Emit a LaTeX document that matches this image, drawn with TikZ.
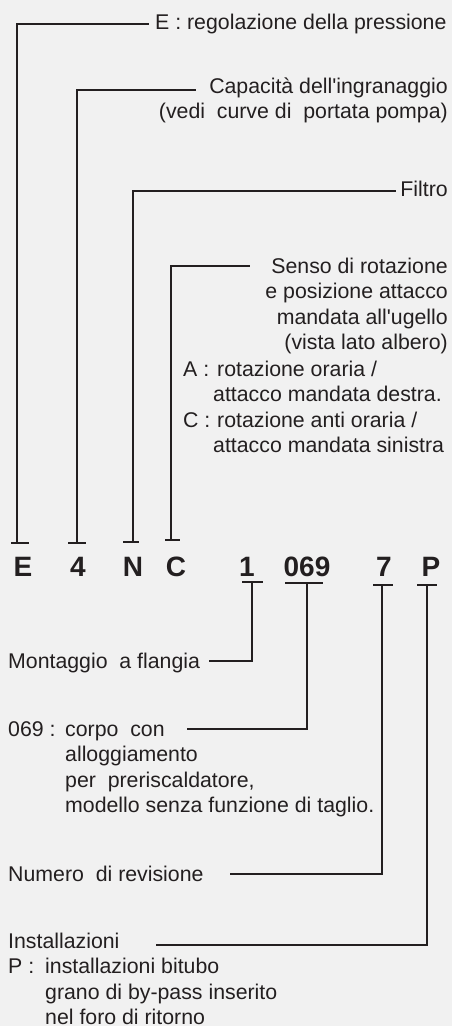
\documentclass[tikz,border=0pt]{standalone}
\usepackage{fontspec}
\setmainfont{Liberation Sans}[Ligatures=TeXOff]
\definecolor{ink}{HTML}{231F20}
\definecolor{paper}{HTML}{F1F1F1}
\begin{document}
\begin{tikzpicture}[x=1pt,y=-1pt,
  conn/.style={draw=ink, line width=2.2pt},
  teebar/.style={draw=ink, line width=2.4pt},
  lbl/.style={inner sep=0pt, text=ink, font=\fontsize{21.3}{25.6}\selectfont},
  code/.style={inner sep=0pt, text=ink, anchor=base, font=\fontsize{28}{28}\selectfont\bfseries}]
\fill[paper] (0,0) rectangle (452,1026);
\useasboundingbox (0,0) rectangle (452,1026);

% type code
\node[code] (kE)  at (23,576)  {E};
\node[code] (k4)  at (78,576)  {4};
\node[code] (kN)  at (133,576) {N};
\node[code] (kC)  at (176,576) {C};
\node[code] (k1)  at (247,576) {1};
\node[code] (k069) at (307,576) {069};
\node[code] (k7)  at (384,576) {7};
\node[code] (kP)  at (431,576) {P};

% upper labels (multi-line blocks are placed by the baseline of their last line)
\node[lbl, anchor=base west] (lE) at (155,29) {E : regolazione della pressione};
\node[lbl, anchor=base east, align=right] (l4) at (448,118.6)
  {Capacità dell'ingranaggio\\(vedi\ \ curve di\ \ portata pompa)};
\node[lbl, anchor=base east] (lN) at (448,196) {Filtro};
\node[lbl, anchor=base east, align=right] (lC) at (448,349.8)
  {Senso di rotazione\\e posizione attacco\\mandata all'ugello\\(vista lato albero)};
\node[lbl, anchor=base west, align=left] (lCx) at (183,452.8)
  {\makebox[34pt][l]{A :}rotazione oraria /\\
   \hspace*{30pt}attacco mandata destra.\\
   \makebox[34pt][l]{C :}rotazione anti oraria /\\
   \hspace*{30pt}attacco mandata sinistra};

% lower labels
\node[lbl, anchor=base west] (l1) at (8,668) {Montaggio\ \ a flangia};
\node[lbl, anchor=base west, align=left] (l069) at (8,812.8)
  {\makebox[57pt][l]{069 :}corpo\ \ con\\
   \hspace*{57pt}alloggiamento\\
   \hspace*{57pt}per\ \ preriscaldatore,\\
   \hspace*{57pt}modello senza funzione di taglio.};
\node[lbl, anchor=base west] (l7) at (8,881) {Numero\ \ di revisione};
\node[lbl, anchor=base west, align=left] (lP) at (8,1024.8)
  {Installazioni\\
   \makebox[37pt][l]{P :}installazioni bitubo\\
   \hspace*{37pt}grano di by-pass inserito\\
   \hspace*{37pt}nel foro di ritorno};

% tee ends under/over the code
\coordinate (tE) at (17,543);
\coordinate (t4) at (77,543);
\coordinate (tN) at (133,542);
\coordinate (tC) at (171,540);
\coordinate (t1) at (252,582);
\coordinate (t069) at (307,583);
\coordinate (t7) at (382,585);
\coordinate (tP) at (427,585);

% leader ends next to the labels
\coordinate (cE) at (149,24);
\coordinate (c4) at (196,90);
\coordinate (cN) at (396,191);
\coordinate (cC) at (250,266);
\coordinate (c1) at (209,661);
\coordinate (c069) at (187,729);
\coordinate (c7) at (230,874);
\coordinate (cP) at (156,945);

% leaders
\draw[conn] (tE) |- (cE);
\draw[conn] (t4) |- (c4);
\draw[conn] (tN) |- (cN);
\draw[conn] (tC) |- (cC);
\draw[conn] (t1) |- (c1);
\draw[conn] (t069) |- (c069);
\draw[conn] (t7) |- (c7);
\draw[conn] (tP) |- (cP);

% tee bars
\draw[teebar] (tE) ++(-6,0) -- ++(18,0);
\draw[teebar] (t4) ++(-9,0) -- ++(18,0);
\draw[teebar] (tN) ++(-10,0) -- ++(16,0);
\draw[teebar] (tC) ++(-6,0) -- ++(15,0);
\draw[teebar] (t1) ++(-10,0) -- ++(21,0);
\draw[teebar] (t069) ++(-22,0) -- ++(38,0);
\draw[teebar] (t7) ++(-9,0) -- ++(20,0);
\draw[teebar] (tP) ++(-10,0) -- ++(20,0);
\end{tikzpicture}
\end{document}
